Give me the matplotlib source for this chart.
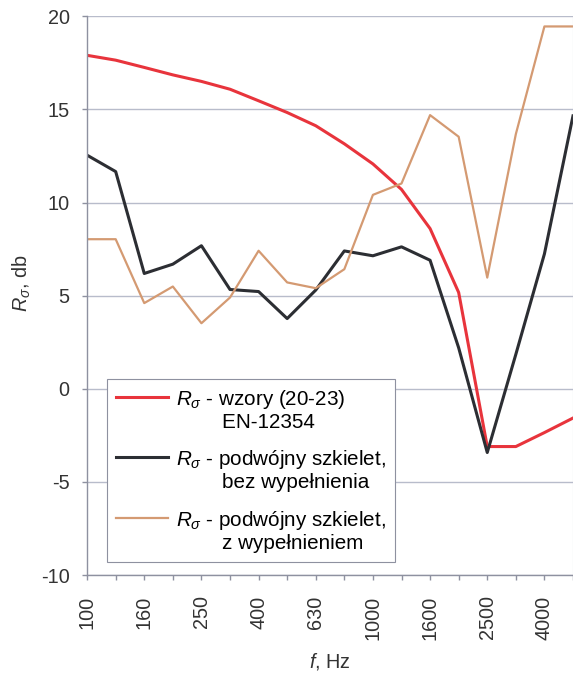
import numpy as np
import matplotlib
matplotlib.use("Agg")
import matplotlib.pyplot as plt
from matplotlib.legend_handler import HandlerLine2D

plt.rcParams['font.family'] = ['Liberation Sans', 'DejaVu Sans']
plt.rcParams['mathtext.fontset'] = 'custom'
plt.rcParams['mathtext.rm'] = 'Liberation Sans'
plt.rcParams['mathtext.it'] = 'Liberation Sans:italic'
plt.rcParams['axes.unicode_minus'] = False

FS = 14.3
FS_LEG = 14.9

# third-octave band centre frequencies, Hz
freqs = ['100', '125', '160', '200', '250', '315', '400', '500', '630',
         '800', '1000', '1250', '1600', '2000', '2500', '3150', '4000', '5000']

# R_sigma, dB
r_formula = [17.9, 17.64, 17.25, 16.85, 16.5, 16.08, 15.46, 14.83, 14.12,
             13.15, 12.07, 10.7, 8.6, 5.17, -3.1, -3.1, -2.35, -1.57]
r_double_empty = [12.54, 11.66, 6.19, 6.69, 7.68, 5.33, 5.22, 3.77, 5.3,
                  7.4, 7.14, 7.62, 6.9, 2.2, -3.42, 1.85, 7.24, 14.65]
r_double_filled = [8.03, 8.03, 4.6, 5.49, 3.52, 4.9, 7.41, 5.71, 5.4,
                   6.42, 10.41, 11.02, 14.69, 13.53, 5.97, 13.67, 19.45, 19.45]

labels = [r"$R_\sigma$ - wzory (20-23)" + "\n        EN-12354",
          r"$R_\sigma$ - podwójny szkielet," + "\n        bez wypełnienia",
          r"$R_\sigma$ - podwójny szkielet," + "\n        z wypełnieniem"]


class FirstLineHandler(HandlerLine2D):
    # put the legend line next to the first text line, not the middle
    def create_artists(self, legend, orig_handle, xdescent, ydescent,
                       width, height, fontsize, trans):
        artists = super().create_artists(legend, orig_handle, xdescent, ydescent,
                                         width, height, fontsize, trans)
        for a in artists:
            a.set_ydata(np.asarray(a.get_ydata()) + 0.66 * fontsize)
        return artists


fig = plt.figure(figsize=(5.73, 6.75), dpi=100)
ax = fig.add_axes([0.152, 0.148, 0.848, 0.828])

x = np.arange(len(freqs))
l1, = ax.plot(x, r_formula, color='#e8343c', lw=2.2)
l2, = ax.plot(x, r_double_empty, color='#2c2e33', lw=2.2)
l3, = ax.plot(x, r_double_filled, color='#d49a72', lw=1.6)

ax.set_xlim(0, len(freqs) - 1)
ax.set_ylim(-10, 20)
ax.set_yticks(np.arange(-10, 21, 5))
ax.set_xticks(x)
ax.set_xticklabels([f if i % 2 == 0 else '' for i, f in enumerate(freqs)],
                   rotation=90)

ax.grid(axis='y', color='#b8bccb', lw=1.0)
ax.set_axisbelow(True)
for s in ['left', 'bottom']:
    ax.spines[s].set_color('#8e91a0')
    ax.spines[s].set_linewidth(1.0)
ax.spines['top'].set_visible(False)
ax.spines['right'].set_color('#c8cbd6')
ax.tick_params(axis='both', colors='#8e91a0', labelcolor='#333333',
               labelsize=FS, length=3.6, width=1.0)
ax.tick_params(axis='x', pad=11)
ax.tick_params(axis='y', pad=9)

ax.set_ylabel(r"$R_\sigma$, db", fontsize=FS, color='#333333')
ax.yaxis.set_label_coords(-0.112, 0.522)
ax.set_xlabel(r"$f$, Hz", fontsize=FS, color='#333333', va='top')
ax.xaxis.set_label_coords(0.5, -0.135)

leg = ax.legend([l1, l2, l3], labels, loc='lower left',
                bbox_to_anchor=(0.041, 0.023), fontsize=FS_LEG,
                handler_map={matplotlib.lines.Line2D: FirstLineHandler()},
                frameon=True, fancybox=False, framealpha=1.0,
                edgecolor='#8e91a0', handlelength=2.5, handletextpad=0.38,
                labelspacing=0.8, borderpad=0.45, borderaxespad=0)
leg.get_frame().set_linewidth(0.8)
for t in leg.get_texts():
    t.set_linespacing(1.13)

fig.savefig('out.png', dpi=100)
